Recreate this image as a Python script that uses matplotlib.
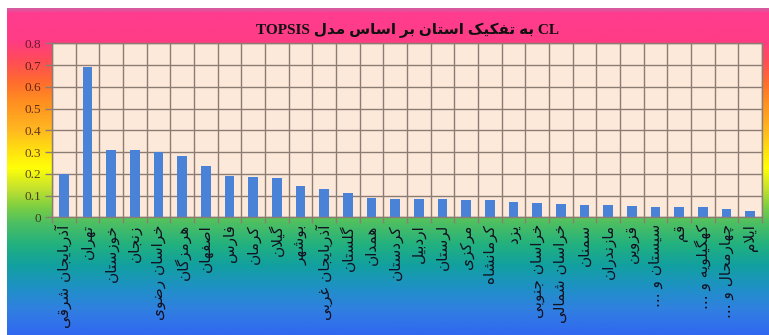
import matplotlib

matplotlib.use("Agg")

import matplotlib.pyplot as plt
import numpy as np
from matplotlib.colors import LinearSegmentedColormap

# CL score per province (TOPSIS), sorted high to low
provinces = [
    "آذربایجان شرقی", "تهران", "خوزستان", "زنجان", "خراسان رضوی",
    "هرمزگان", "اصفهان", "فارس", "کرمان", "گیلان",
    "بوشهر", "آذربایجان غربی", "گلستان", "همدان", "کردستان",
    "اردبیل", "لرستان", "مرکزی", "کرمانشاه", "یزد",
    "خراسان جنوبی", "خراسان شمالی", "سمنان", "مازندران", "قزوین",
    "سیستان و ...", "قم", "کهگیلویه و ...", "چهارمحال و ...", "ایلام",
]
cl_values = [
    0.20, 0.69, 0.31, 0.31, 0.30,
    0.28, 0.235, 0.19, 0.185, 0.18,
    0.143, 0.132, 0.11, 0.089, 0.083,
    0.083, 0.083, 0.078, 0.078, 0.069,
    0.068, 0.063, 0.057, 0.057, 0.052,
    0.046, 0.046, 0.046, 0.040, 0.030,
]
y_ticks = [0, 0.1, 0.2, 0.3, 0.4, 0.5, 0.6, 0.7, 0.8]
title_text = "CL به تفکیک استان بر اساس مدل TOPSIS"

# contextual forms: (isolated, final, initial, medial); two-form letters never join to the left
FORMS = {
    "\u0627": ("\uFE8D", "\uFE8E"),
    "\u0622": ("\uFE81", "\uFE82"),
    "\u0628": ("\uFE8F", "\uFE90", "\uFE91", "\uFE92"),
    "\u062A": ("\uFE95", "\uFE96", "\uFE97", "\uFE98"),
    "\u062C": ("\uFE9D", "\uFE9E", "\uFE9F", "\uFEA0"),
    "\u062D": ("\uFEA1", "\uFEA2", "\uFEA3", "\uFEA4"),
    "\u062E": ("\uFEA5", "\uFEA6", "\uFEA7", "\uFEA8"),
    "\u062F": ("\uFEA9", "\uFEAA"),
    "\u0630": ("\uFEAB", "\uFEAC"),
    "\u0631": ("\uFEAD", "\uFEAE"),
    "\u0632": ("\uFEAF", "\uFEB0"),
    "\u0633": ("\uFEB1", "\uFEB2", "\uFEB3", "\uFEB4"),
    "\u0634": ("\uFEB5", "\uFEB6", "\uFEB7", "\uFEB8"),
    "\u0635": ("\uFEB9", "\uFEBA", "\uFEBB", "\uFEBC"),
    "\u0636": ("\uFEBD", "\uFEBE", "\uFEBF", "\uFEC0"),
    "\u0637": ("\uFEC1", "\uFEC2", "\uFEC3", "\uFEC4"),
    "\u063A": ("\uFECD", "\uFECE", "\uFECF", "\uFED0"),
    "\u0641": ("\uFED1", "\uFED2", "\uFED3", "\uFED4"),
    "\u0642": ("\uFED5", "\uFED6", "\uFED7", "\uFED8"),
    "\u0644": ("\uFEDD", "\uFEDE", "\uFEDF", "\uFEE0"),
    "\u0645": ("\uFEE1", "\uFEE2", "\uFEE3", "\uFEE4"),
    "\u0646": ("\uFEE5", "\uFEE6", "\uFEE7", "\uFEE8"),
    "\u0647": ("\uFEE9", "\uFEEA", "\uFEEB", "\uFEEC"),
    "\u0648": ("\uFEED", "\uFEEE"),
    "\u067E": ("\uFB56", "\uFB57", "\uFB58", "\uFB59"),
    "\u0686": ("\uFB7A", "\uFB7B", "\uFB7C", "\uFB7D"),
    "\u0698": ("\uFB8A", "\uFB8B"),
    "\u06A9": ("\uFB8E", "\uFB8F", "\uFB90", "\uFB91"),
    "\u06AF": ("\uFB92", "\uFB93", "\uFB94", "\uFB95"),
    "\u06CC": ("\uFBFC", "\uFBFD", "\uFBFE", "\uFBFF"),
}
LAM_ALEF = {"\u0627": ("\uFEFB", "\uFEFC"), "\u0622": ("\uFEF5", "\uFEF6")}


def _joins_left(ch):
    return ch in FORMS and len(FORMS[ch]) == 4


def shape_fa(word):
    out = []
    i = 0
    n = len(word)
    while i < n:
        ch = word[i]
        if ch not in FORMS:
            out.append(ch)
            i += 1
            continue
        joined_prev = i > 0 and _joins_left(word[i - 1])
        if ch == "\u0644" and i + 1 < n and word[i + 1] in LAM_ALEF:
            lig = LAM_ALEF[word[i + 1]]
            out.append(lig[1] if joined_prev else lig[0])
            i += 2
            continue
        forms = FORMS[ch]
        joins_next = len(forms) == 4 and i + 1 < n and word[i + 1] in FORMS
        if joined_prev and joins_next:
            out.append(forms[3])
        elif joined_prev:
            out.append(forms[1])
        elif joins_next:
            out.append(forms[2])
        else:
            out.append(forms[0])
        i += 1
    return "".join(out)


def to_visual(text):
    words = []
    for w in text.split(" "):
        if any(c in FORMS for c in w):
            words.append(shape_fa(w)[::-1])
        else:
            words.append(w)
    return " ".join(reversed(words))


W, H = 769, 335
grid_c = "#8c7d74"
bar_c = "#4a82d8"

fig = plt.figure(figsize=(W / 100, H / 100), dpi=100)
fig.patch.set_facecolor("white")

# rainbow backdrop behind the chart
stops = [
    (8, "#d85aa0"), (12, "#ff3c90"), (40, "#ff3c84"), (58, "#ff4a5c"),
    (80, "#ff6a30"), (102, "#ff9020"), (130, "#ffb820"), (150, "#ffe010"),
    (168, "#ffff08"), (190, "#c0e030"), (206, "#80d040"), (222, "#50c060"),
    (246, "#20b080"), (266, "#12a0a0"), (290, "#2090c8"), (310, "#3080e0"),
    (335, "#3068f0"),
]
cmap = LinearSegmentedColormap.from_list(
    "backdrop", [((y - 8) / (335 - 8), c) for y, c in stops]
)
bg = fig.add_axes([7 / W, 0, (W - 7) / W, (H - 8) / H])
bg.imshow(np.linspace(0, 1, 400)[:, None], aspect="auto", cmap=cmap,
          extent=[0, 1, 0, 1], origin="upper")
bg.axis("off")

ax = fig.add_axes([52 / W, (H - 217.3) / H, 710 / W, 174 / H])
ax.set_facecolor("#fde9da")
x = np.arange(len(provinces))
ax.bar(x, cl_values, width=0.42, color=bar_c, zorder=2)

ax.set_xlim(-0.5, len(provinces) - 0.5)
ax.set_ylim(0, 0.8)
ax.set_yticks(y_ticks)
ax.set_yticklabels([f"{v:g}" for v in y_ticks], family="Liberation Serif",
                   fontsize=9.5, color=(0.2, 0.05, 0.05, 0.75))
ax.set_xticks(x)
ax.set_xticklabels([to_visual(p) for p in provinces], rotation=90,
                   family="DejaVu Sans", fontsize=11, color="#111122")
ax.set_xticks(np.arange(-0.5, len(provinces), 1), minor=True)

ax.set_axisbelow(True)
ax.grid(axis="y", which="major", color=grid_c, lw=1)
ax.grid(axis="x", which="minor", color=grid_c, lw=1)
ax.tick_params(axis="x", which="major", length=0, pad=5)
ax.tick_params(axis="x", which="minor", length=4, color=grid_c, width=1)
ax.tick_params(axis="y", length=5, color=grid_c, width=1, pad=3)
for side in ax.spines.values():
    side.set_color(grid_c)
    side.set_linewidth(1)

fig.text(407 / W, 1 - 30 / H, to_visual(title_text), ha="center", va="center",
         fontsize=11, fontweight="bold", color="#111111",
         family=["Liberation Serif", "DejaVu Sans"])

fig.savefig("out.png", dpi=100)
